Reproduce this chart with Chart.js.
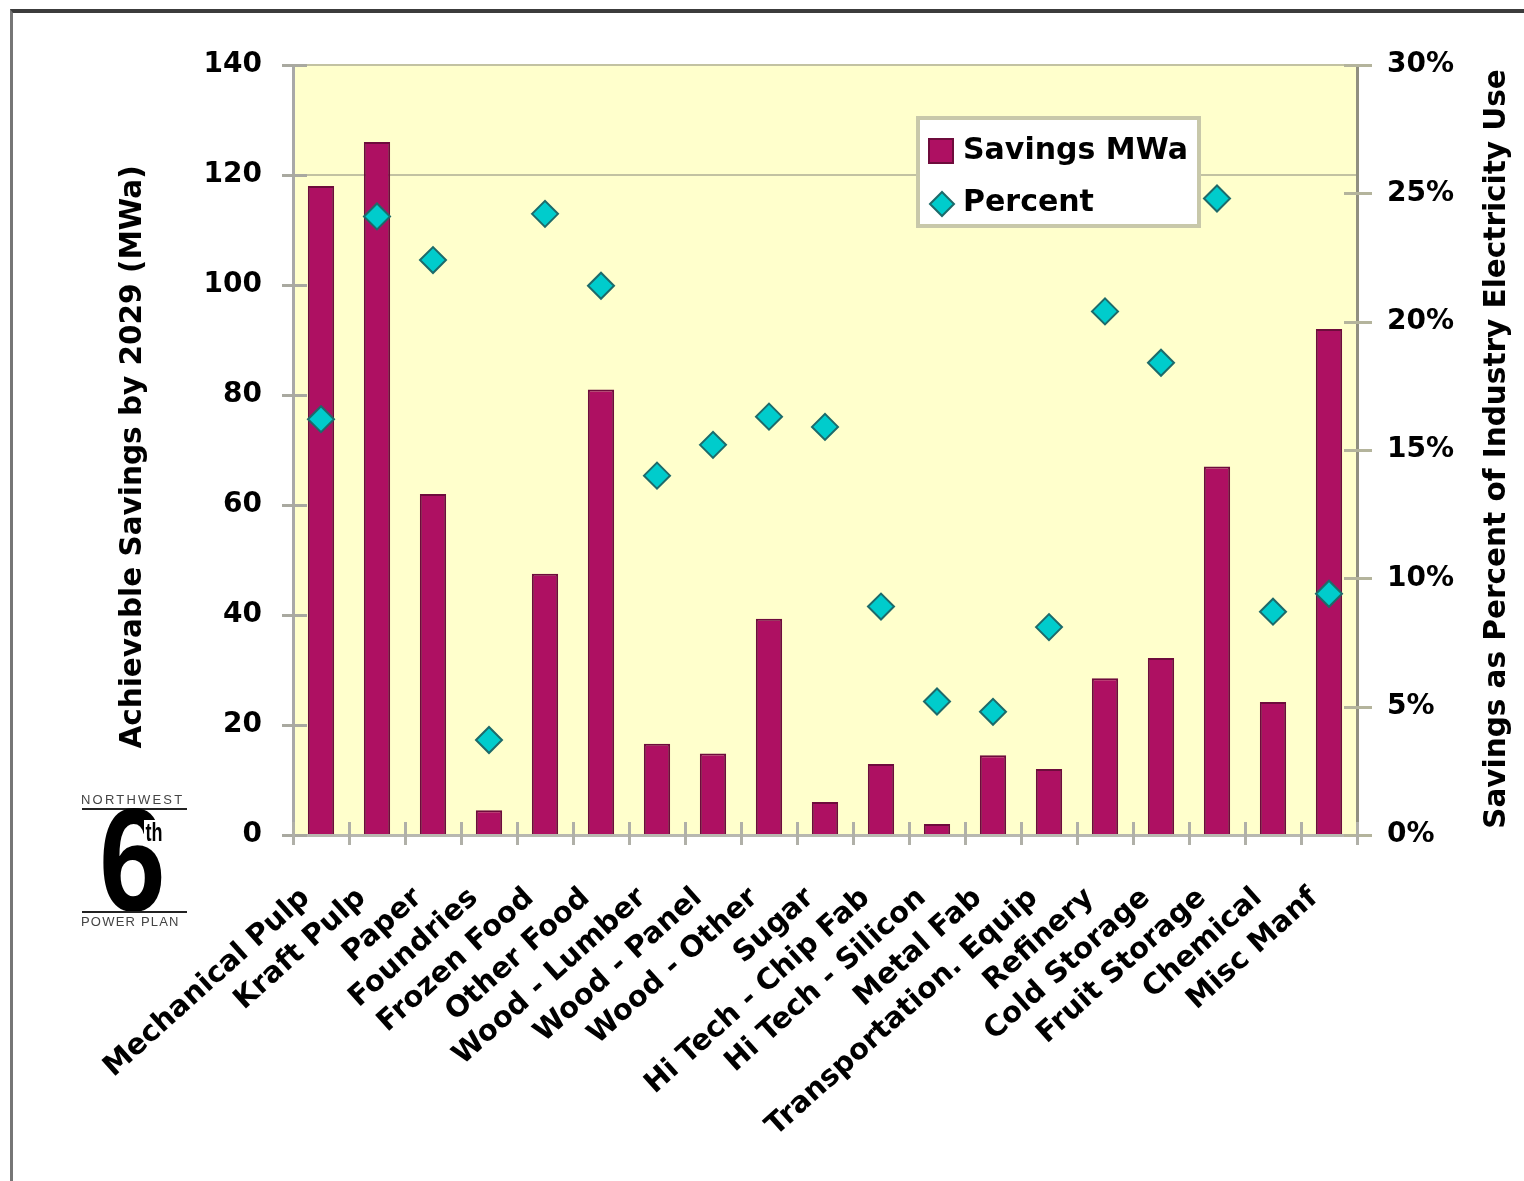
<!DOCTYPE html>
<html>
<head>
<meta charset="utf-8">
<title>Achievable Savings by Industry</title>
<script src="https://cdn.jsdelivr.net/npm/chart.js@4.4.1/dist/chart.umd.min.js"></script>
<style>
  html, body { margin: 0; padding: 0; background: #fff; }
  #wrap { position: relative; width: 1524px; height: 1181px; overflow: hidden; background: #fff; }
  #frame { position: absolute; left: 10px; top: 9px; width: 1530px; height: 1190px;
           border-top: 4px solid #3c3c3c; border-left: 3px solid #767676; box-sizing: border-box; }
  #chart { position: absolute; left: 0; top: 0; }
  .logo { position: absolute; font-family: "Liberation Sans", Arial, sans-serif; color: #000; white-space: nowrap; }
  .logo-small { font-size: 13px; color: #444; letter-spacing: 2.2px; }
  .logo-rule { height: 2px; background: #222; width: 105px; }
  .logo-six { font-size: 146px; line-height: 146px; font-weight: bold; transform: scaleX(0.82); transform-origin: left top; }
  .logo-th { font-size: 25px; line-height: 22px; font-weight: bold; background: #fff; padding: 1px 2px 0 2px;
             transform: scaleX(0.72); transform-origin: left top; }
</style>
</head>
<body>
<div id="wrap">
  <div id="frame"></div>
  <canvas id="chart" width="1524" height="1181"></canvas>
  <div class="logo logo-small" style="left:81px; top:792px;">NORTHWEST</div>
  <div class="logo logo-rule" style="left:82px; top:808px;"></div>
  <div class="logo logo-six" style="left:99px; top:788px;">6</div>
  <div class="logo logo-th" style="left:144px; top:820px;">th</div>
  <div class="logo logo-rule" style="left:82px; top:911px;"></div>
  <div class="logo logo-small" style="left:81px; top:914px; letter-spacing:1.2px;">POWER PLAN</div>
</div>
<script>
// Industry segments along the x axis
const categories = [
  "Mechanical Pulp", "Kraft Pulp", "Paper", "Foundries", "Frozen Food", "Other Food",
  "Wood - Lumber", "Wood - Panel", "Wood - Other", "Sugar", "Hi Tech - Chip Fab",
  "Hi Tech - Silicon", "Metal Fab", "Transportation. Equip", "Refinery", "Cold Storage",
  "Fruit Storage", "Chemical", "Misc Manf"
];

// Achievable savings by 2029, average megawatts (left axis)
const savingsMWa = [118, 126, 62, 4.5, 47.5, 81, 16.6, 14.8, 39.3, 6, 12.9, 2, 14.5, 12, 28.5, 32.2, 67, 24.2, 92];

// Savings as percent of each industry's electricity use (right axis)
const percentOfUse = [16.2, 24.1, 22.4, 3.7, 24.2, 21.4, 14.0, 15.2, 16.3, 15.9, 8.9, 5.2, 4.8, 8.1, 20.4, 18.4, 24.8, 8.7, 9.4];

// Axis ranges and tick steps
const leftAxisRange = [0, 140];
const leftAxisStep = 20;
const rightAxisRange = [0, 30];
const rightAxisStep = 5;

const leftTitle = "Achievable Savings by 2029 (MWa)";
const rightTitle = "Savings as Percent of Industry Electricity Use";
const seriesNames = ["Savings MWa", "Percent"];

const BOLD = { family: "'DejaVu Sans', 'Liberation Sans', Arial, sans-serif", weight: "bold" };
const FONT_FAMILY = BOLD.family;

// Pale yellow plot area
const plotBackground = {
  id: 'plotBackground',
  beforeDraw(chart) {
    const { ctx, chartArea: a } = chart;
    ctx.save();
    ctx.fillStyle = '#ffffcc';
    ctx.fillRect(a.left, a.top, a.right - a.left, a.bottom - a.top);
    ctx.restore();
  }
};

// Tick marks that cross the axis lines
const crossTicks = {
  id: 'crossTicks',
  afterDatasetsDraw(chart) {
    const { ctx, chartArea: a, scales } = chart;
    const seg = (x1, y1, x2, y2) => { ctx.beginPath(); ctx.moveTo(x1, y1); ctx.lineTo(x2, y2); ctx.stroke(); };
    ctx.save();
    ctx.lineWidth = 3;
    ctx.strokeStyle = '#a9a9a0';
    scales.y.ticks.forEach(t => {
      const py = Math.round(scales.y.getPixelForValue(t.value)) + 0.5;
      seg(a.left - 11, py, a.left + 14, py);
    });
    ctx.strokeStyle = '#b4b49c';
    scales.y2.ticks.forEach(t => {
      const py = Math.round(scales.y2.getPixelForValue(t.value)) + 0.5;
      seg(a.right - 13, py, a.right + 15, py);
    });
    ctx.strokeStyle = '#b0b0a8';
    const n = scales.x.ticks.length;
    for (let i = 0; i <= n; i++) {
      let px;
      if (i === 0) px = a.left;
      else if (i === n) px = a.right;
      else px = (scales.x.getPixelForTick(i - 1) + scales.x.getPixelForTick(i)) / 2;
      px = Math.round(px) + 0.5;
      seg(px, a.bottom - 13, px, a.bottom + 10);
    }
    ctx.restore();
  }
};

// Axis titles, both reading bottom to top
const axisTitles = {
  id: 'axisTitles',
  afterDraw(chart) {
    const { ctx, chartArea: a } = chart;
    ctx.save();
    ctx.fillStyle = '#000';
    ctx.font = `bold 29.5px ${FONT_FAMILY}`;
    ctx.textAlign = 'center';
    ctx.textBaseline = 'middle';
    ctx.save();
    ctx.translate(133, (a.top + a.bottom) / 2 + 7);
    ctx.rotate(-Math.PI / 2);
    ctx.fillText(leftTitle, 0, 0);
    ctx.restore();
    ctx.save();
    ctx.translate(1497, (a.top + a.bottom) / 2 - 1);
    ctx.rotate(-Math.PI / 2);
    ctx.fillText(rightTitle, 0, 0);
    ctx.restore();
    ctx.restore();
  }
};

// Boxed legend inside the plot area
const boxLegend = {
  id: 'boxLegend',
  afterDraw(chart) {
    const { ctx, chartArea: a } = chart;
    const bars = chart.data.datasets[1];
    const pts = chart.data.datasets[0];
    const bx = a.left + 625, by = a.top + 53, bw = 281, bh = 108;
    ctx.save();
    ctx.fillStyle = '#ffffff';
    ctx.fillRect(bx, by, bw, bh);
    ctx.lineWidth = 4;
    ctx.strokeStyle = '#c8c8aa';
    ctx.strokeRect(bx, by, bw, bh);
    // bar swatch
    ctx.fillStyle = bars.backgroundColor;
    ctx.fillRect(bx + 11, by + 21, 24, 24);
    ctx.lineWidth = 2;
    ctx.strokeStyle = bars.borderColor;
    ctx.strokeRect(bx + 11, by + 21, 24, 24);
    // diamond marker
    ctx.fillStyle = pts.backgroundColor;
    ctx.strokeStyle = pts.borderColor;
    ctx.lineWidth = 2;
    Chart.helpers.drawPoint(ctx, { pointStyle: 'rectRot', radius: 12, rotation: 0, borderWidth: 2 }, bx + 24, by + 86);
    // labels
    ctx.fillStyle = '#000';
    ctx.font = `bold 30px ${FONT_FAMILY}`;
    ctx.textAlign = 'left';
    ctx.textBaseline = 'middle';
    ctx.fillText(seriesNames[0], bx + 45, by + 33);
    ctx.fillText(seriesNames[1], bx + 45, by + 85);
    ctx.restore();
  }
};

new Chart(document.getElementById('chart'), {
  type: 'bar',
  data: {
    labels: categories,
    datasets: [
      {
        type: 'line',
        label: seriesNames[1],
        data: percentOfUse,
        yAxisID: 'y2',
        showLine: false,
        pointStyle: 'rectRot',
        pointRadius: 13,
        pointBorderWidth: 2,
        backgroundColor: '#00cccc',
        borderColor: '#1d6a6a',
        order: 1
      },
      {
        type: 'bar',
        label: seriesNames[0],
        data: savingsMWa,
        yAxisID: 'y',
        backgroundColor: '#ae1062',
        borderColor: '#6e0c3c',
        borderWidth: 2,
        barPercentage: 0.47,
        categoryPercentage: 1.0,
        order: 2
      }
    ]
  },
  options: {
    responsive: false,
    animation: false,
    events: [],
    layout: { padding: { top: 65, left: 0, right: 0, bottom: 0 } },
    plugins: {
      legend: { display: false },
      tooltip: { enabled: false },
      title: { display: false }
    },
    scales: {
      x: {
        type: 'category',
        offset: true,
        grid: { display: false },
        border: { display: true, color: '#b8b8b0', width: 3 },
        ticks: {
          autoSkip: false,
          minRotation: 42,
          maxRotation: 42,
          padding: 38,
          labelOffset: -15,
          color: '#000',
          font: { ...BOLD, size: 29 }
        },
        afterFit(scale) { scale.height = 346; }
      },
      y: {
        position: 'left',
        min: leftAxisRange[0],
        max: leftAxisRange[1],
        border: { display: true, color: '#a8a8a8', width: 3 },
        grid: {
          drawTicks: false,
          lineWidth: 2,
          color: ctx => (ctx.tick && (ctx.tick.value === 120 || ctx.tick.value === 140)) ? '#c2c2a2' : 'rgba(0,0,0,0)'
        },
        ticks: {
          stepSize: leftAxisStep,
          padding: 31,
          color: '#000',
          font: { ...BOLD, size: 28 }
        },
        afterFit(scale) { scale.width = 293; }
      },
      y2: {
        position: 'right',
        min: rightAxisRange[0],
        max: rightAxisRange[1],
        border: { display: true, color: '#908f80', width: 3 },
        grid: { display: false, drawTicks: false },
        ticks: {
          stepSize: rightAxisStep,
          padding: 30,
          color: '#000',
          font: { ...BOLD, size: 28 },
          callback: v => v + '%'
        },
        afterFit(scale) { scale.width = 167; }
      }
    }
  },
  plugins: [plotBackground, crossTicks, axisTitles, boxLegend]
});
</script>
</body>
</html>
